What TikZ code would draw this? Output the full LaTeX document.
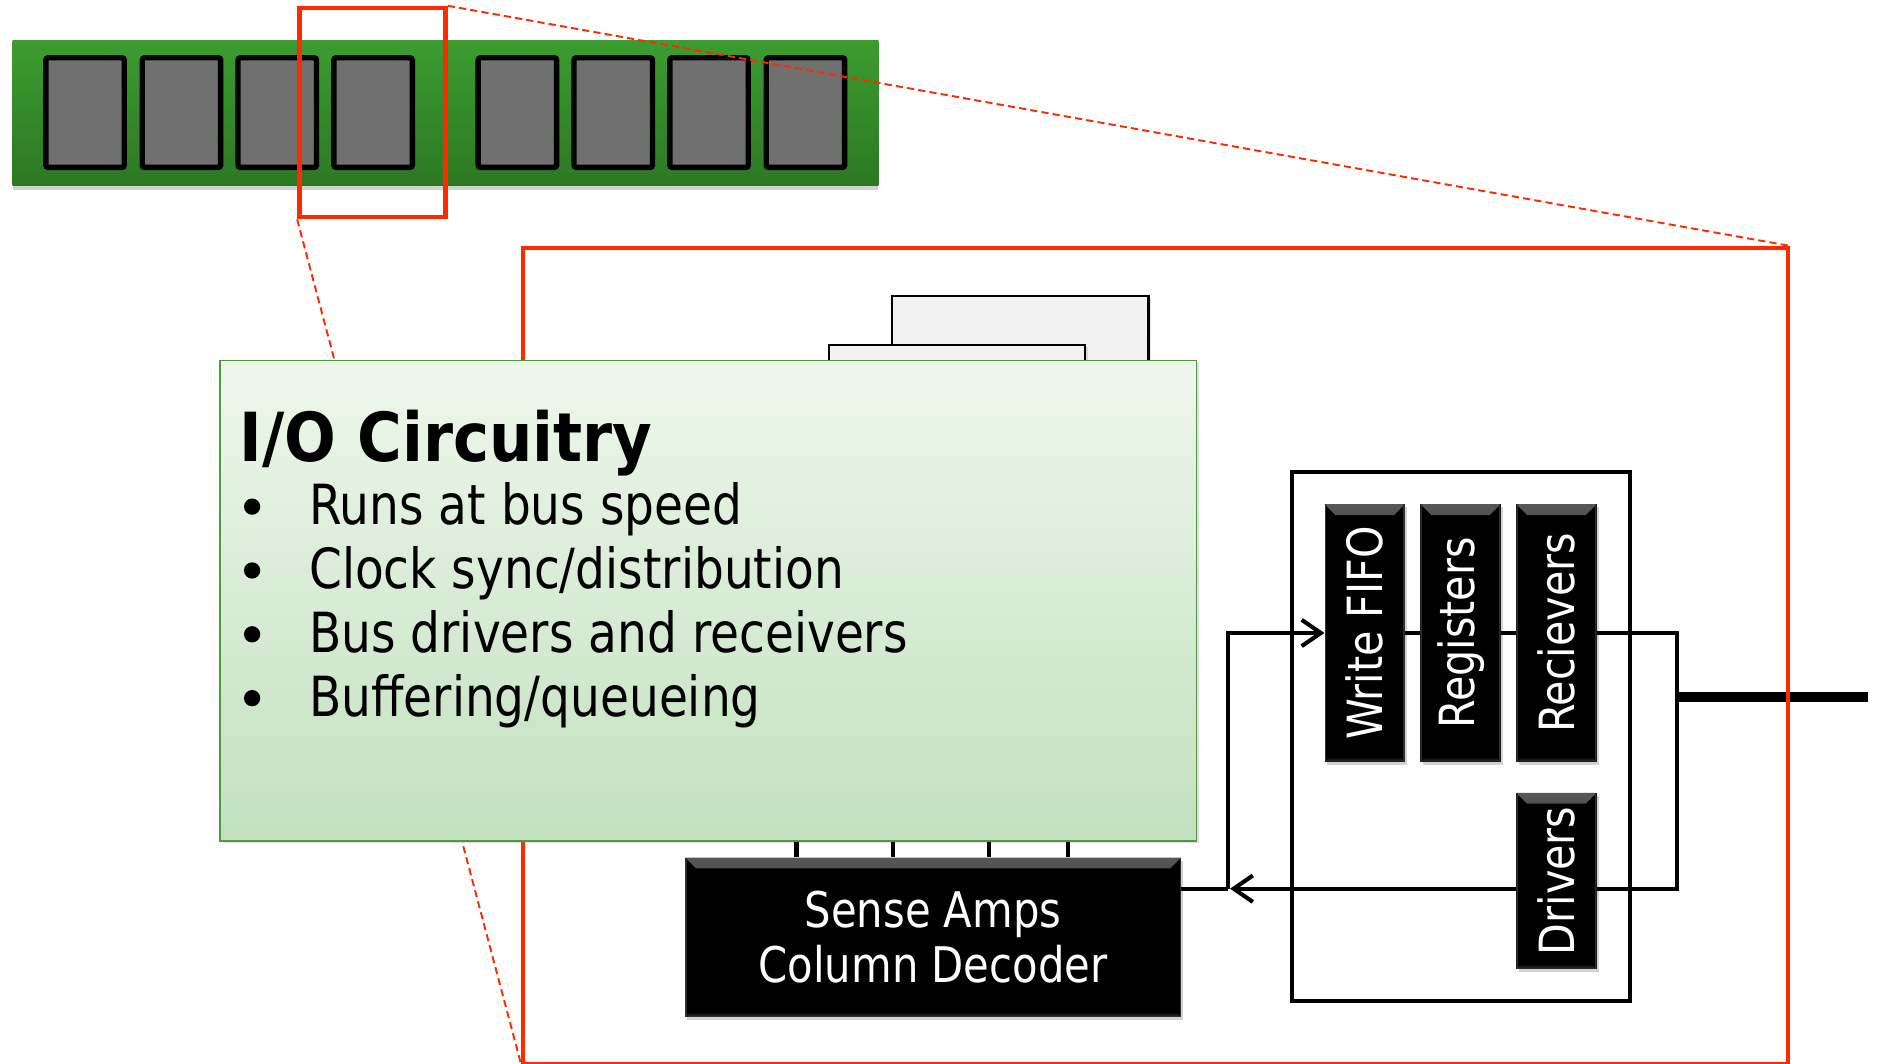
\documentclass[tikz,border=0pt]{standalone}
\usepackage{fontspec}
\usepackage{graphicx}
\setmainfont{DejaVu Sans}[FakeStretch=0.85]
\newfontfamily\headfont{DejaVu Sans}[FakeStretch=0.9]
\usetikzlibrary{arrows.meta,shadows,calc}

\definecolor{zoomred}{HTML}{FF2A00}
\definecolor{dimmtop}{HTML}{3C9C30}
\definecolor{dimmbot}{HTML}{2C7822}
\definecolor{chipgrey}{HTML}{707070}
\definecolor{notetop}{HTML}{EFF7ED}
\definecolor{notebot}{HTML}{C1E1BD}
\definecolor{noteline}{HTML}{4F9A40}
\definecolor{banktop}{HTML}{F2F2F2}
\definecolor{bankbot}{HTML}{E4E4E4}

\begin{document}
\begin{tikzpicture}[x=1pt, y=-1pt,
  wire/.style={line width=3.4pt, line join=miter},
  arr/.style={wire, -{Straight Barb[length=16pt, width=22pt]}},
  chipbox/.style={draw=black, line width=4.5pt, fill=chipgrey, rounded corners=2pt,
    minimum width=65.5pt, minimum height=91.5pt, inner sep=0pt},
  selbox/.style={draw=zoomred, inner sep=0pt},
  zoomline/.style={zoomred, line width=1.6pt, dash pattern=on 6pt off 3.5pt},
  bevel/.style={path picture={
    % raised top edge
    \shade[top color=black!66, bottom color=black]
      (path picture bounding box.north west) -- (path picture bounding box.north east)
      -- ([xshift=-9pt, yshift=-9pt]path picture bounding box.north east)
      -- ([xshift=9pt, yshift=-9pt]path picture bounding box.north west) -- cycle;
    % lower edge
    \shade[top color=black, bottom color=black!78]
      ([xshift=4pt, yshift=4pt]path picture bounding box.south west)
      -- ([xshift=-4pt, yshift=4pt]path picture bounding box.south east)
      -- (path picture bounding box.south east)
      -- (path picture bounding box.south west) -- cycle;
    % thin side highlights
    \fill[black!82] (path picture bounding box.south west)
      rectangle ([xshift=1.2pt]path picture bounding box.north west);
    \fill[black!82] (path picture bounding box.south east)
      rectangle ([xshift=-1.2pt]path picture bounding box.north east);
  }},
  blackbox/.style={fill=black, inner sep=0pt, text=white, bevel,
    font=\fontsize{40.5}{46}\selectfont,
    drop shadow={shadow xshift=2pt, shadow yshift=-2.5pt, opacity=0.35}},
  bank/.style={draw=black, line width=2pt, top color=banktop, bottom color=bankbot,
    inner sep=0pt, drop shadow={shadow xshift=2pt, shadow yshift=-2pt, opacity=0.2}},
  bullettext/.style={anchor=base west, inner sep=0pt, font=\fontsize{46.2}{53}\selectfont},
  ]

\useasboundingbox (0,0) rectangle (1568,888);
\fill[white] (0,0) rectangle (1568,888);

% memory module with its eight chips
\node[top color=dimmtop, bottom color=dimmbot, minimum width=722.8pt, minimum height=121pt,
  inner sep=0pt, drop shadow={shadow xshift=0pt, shadow yshift=-4pt, opacity=0.35}]
  (dimm) at (371.9,94) {};
\foreach \cx [count=\i] in {71,151.5,231.5,311.5,432,512,592,672.5}
  \node[chipbox] (chip\i) at (\cx,94) {};

% zoom selection; the magnified frame is placed on top of the wiring further down
\node[selbox, line width=3.8pt, minimum width=122pt, minimum height=174.5pt] (srcsel) at (311,94) {};
\coordinate (dstne) at (1493,207);
\coordinate (dstsw) at (437,888);

% memory banks behind the callout
\node[bank, minimum width=214pt, minimum height=353pt] (bankA) at (852,423.5) {};
\node[bank, minimum width=214pt, minimum height=312pt] (bankB) at (799,444) {};

% I/O block
\node[draw=black, line width=3.5pt, minimum width=282pt, minimum height=442pt, inner sep=0pt]
  (iobox) at (1220,615) {};
\node[blackbox, minimum width=67pt, minimum height=215pt] (WF) at (1139.5,528.5) {\rotatebox{90}{Write FIFO}};
\node[blackbox, minimum width=67pt, minimum height=215pt] (RG) at (1219.5,528.5) {\rotatebox{90}{Registers}};
\node[blackbox, minimum width=67pt, minimum height=215pt] (RC) at (1299.5,528.5) {\rotatebox{90}{Recievers}};
\node[blackbox, minimum width=67pt, minimum height=147pt] (DR) at (1299.5,735.5) {\rotatebox{90}{Drivers}};

\node[blackbox, minimum width=414pt, minimum height=133pt, align=center,
  font=\fontsize{41}{46}\selectfont] (SA) at (779,782.5) {Sense Amps\\Column Decoder};

% data paths
\coordinate (jb) at (1025,742);
\coordinate (rt) at (1400,528.5);
\coordinate (rb) at (1400,742);
\coordinate (busin) at (1400,582);
\coordinate (busout) at (1560,582);

\draw[wire] (SA.east |- jb) -- (jb);
\draw[arr] (jb) |- (WF.west);
\draw[arr] (DR.west |- jb) -- ([xshift=2pt]jb);
\draw[wire] (WF.east) -- (RG.west);
\draw[wire] (RG.east) -- (RC.west);
\draw[wire] (RC.east) -- (rt) -- (rb) -- (DR.east |- rb);
\draw[line width=9pt] (busin) -- (busout);

% magnified frame and the zoom guides
\node[selbox, line width=3.3pt, minimum width=1056pt, minimum height=681pt]
  (dstsel) at ($(dstne)!0.5!(dstsw)$) {};
\draw[zoomline] (srcsel.north east) -- (dstsel.north east);
\draw[zoomline] (srcsel.south west) -- (dstsel.south west);

% callout
\node[draw=noteline, line width=1.6pt, top color=notetop, bottom color=notebot,
  minimum width=815pt, minimum height=401pt, inner sep=0pt,
  drop shadow={shadow xshift=2pt, shadow yshift=-2pt, opacity=0.25}]
  (info) at (591.5,501.5) {};
\node[anchor=base west, inner sep=0pt, font=\headfont\bfseries\fontsize{56.5}{60}\selectfont]
  (title) at (200,385) {I/O Circuitry};
\foreach \yy in {438,491.3,544.6,597.9}
  \fill (210.5,\yy-15) circle (6.8);
\node[bullettext] (item1) at (258,438) {Runs at bus speed};
\node[bullettext] (item2) at (258,491.3) {Clock sync/distribution};
\node[bullettext] (item3) at (258,544.6) {Bus drivers and receivers};
\node[bullettext] (item4) at (258,597.9) {Buffering/queueing};

% bit lines from the array into the sense amplifiers
\foreach \xx in {665,745.5,825.5,892}
  \draw[wire] (\xx,0 |- info.south) -- (\xx,0 |- SA.north);

\end{tikzpicture}
\end{document}
